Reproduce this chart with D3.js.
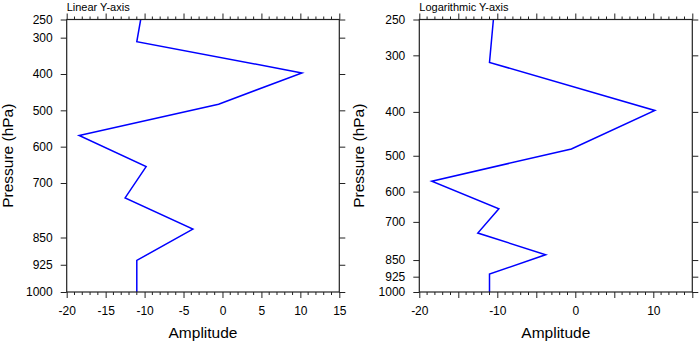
<!DOCTYPE html>
<html>
<head>
<meta charset="utf-8">
<script src="https://cdn.jsdelivr.net/npm/d3@7"></script>
<style>
  html, body { margin: 0; padding: 0; background: #fff; }
  svg { display: block; font-family: "Liberation Sans", Arial, Helvetica, sans-serif; }
</style>
</head>
<body>
<svg id="chart" width="700" height="342"></svg>
<script>
// ---- data ----
const pressure = [250, 311, 397, 483, 569, 655, 741, 827, 913, 1000];
const amplitude = [-10.5, -11.0, 10.2, -0.5, -18.4, -9.8, -12.5, -3.8, -11.0, -11.0];
const yTickValues = [250, 300, 400, 500, 600, 700, 850, 925, 1000];
const xDomain = [-20, 15];
const xMajorTicks = [-20, -15, -10, -5, 0, 5, 10, 15];
const xLabelsLinear = [-20, -15, -10, -5, 0, 5, 10, 15];
const xLabelsLog = [-20, -10, 0, 10];
const titles = ["Linear Y-axis", "Logarithmic Y-axis"];

(function () {
const svg = d3.select("#chart");
const plotTop = 19.5, plotBottom = 292;

const panels = [
  {left: 66.7, right: 339.3, log: false, title: titles[0], labels: xLabelsLinear, ylabX: 13},
  {left: 419.3, right: 692.3, log: true, title: titles[1], labels: xLabelsLog, ylabX: 364}
];

const minorTicks = d3.range(xDomain[0], xDomain[1] + 1, 1).filter(v => !xMajorTicks.includes(v));
const axisColor = "#222";

panels.forEach(p => {
  const g = svg.append("g");
  const x = d3.scaleLinear().domain(xDomain).range([p.left, p.right]);
  const y = (p.log ? d3.scaleLog() : d3.scaleLinear()).domain([250, 1000]).range([plotTop, plotBottom]);

  // data line
  const line = d3.line().x(d => x(d[0])).y(d => y(d[1]));
  g.append("path")
    .datum(amplitude.map((a, i) => [a, pressure[i]]))
    .attr("d", line)
    .attr("fill", "none")
    .attr("stroke", "#0000ff")
    .attr("stroke-width", 1.5);

  // bottom axis (labels)
  const bottomAxis = g.append("g").attr("transform", `translate(0,${plotBottom})`)
    .call(d3.axisBottom(x).tickValues(xMajorTicks).tickSize(6).tickPadding(8)
      .tickFormat(d => p.labels.includes(d) ? d : ""));
  bottomAxis.selectAll("text").attr("font-size", 12).attr("fill", "#000")
    .attr("font-family", "Liberation Sans, Arial, sans-serif");
  bottomAxis.selectAll("line.minor").data(minorTicks).enter()
    .append("line").attr("class", "minor")
    .attr("x1", d => x(d)).attr("x2", d => x(d)).attr("y1", 0).attr("y2", 3)
    .attr("stroke", axisColor);

  // top axis (ticks only)
  const topAxis = g.append("g").attr("transform", `translate(0,${plotTop})`)
    .call(d3.axisTop(x).tickValues(xMajorTicks).tickSize(6).tickFormat(""));
  topAxis.selectAll("line.minor").data(minorTicks).enter()
    .append("line").attr("class", "minor")
    .attr("x1", d => x(d)).attr("x2", d => x(d)).attr("y1", 0).attr("y2", -3)
    .attr("stroke", axisColor);

  // left axis
  const leftAxis = g.append("g").attr("transform", `translate(${p.left},0)`)
    .call(d3.axisLeft(y).tickValues(yTickValues).tickSize(6).tickPadding(8).tickFormat(d3.format("d")));
  leftAxis.selectAll("text").attr("font-size", 12).attr("fill", "#000")
    .attr("font-family", "Liberation Sans, Arial, sans-serif");

  // right axis
  g.append("g").attr("transform", `translate(${p.right},0)`)
    .call(d3.axisRight(y).tickValues(yTickValues).tickSize(6).tickFormat(""));

  g.selectAll(".tick line").attr("stroke", axisColor);
  g.selectAll(".domain").remove();
  g.append("rect").attr("x", p.left).attr("y", plotTop)
    .attr("width", p.right - p.left).attr("height", plotBottom - plotTop)
    .attr("fill", "none").attr("stroke", axisColor).attr("stroke-width", 1.2);

  // title
  g.append("text").attr("x", p.left).attr("y", 10.5)
    .attr("font-size", 11).attr("fill", "#000").text(p.title);

  // x label
  g.append("text").attr("x", (p.left + p.right) / 2).attr("y", 337.5)
    .attr("text-anchor", "middle").attr("font-size", 15.5).attr("fill", "#000").text("Amplitude");

  // y label
  g.append("text")
    .attr("transform", `translate(${p.ylabX},${(plotTop + plotBottom) / 2}) rotate(-90)`)
    .attr("text-anchor", "middle").attr("font-size", 15.5).attr("fill", "#000").text("Pressure (hPa)");
});
})();
</script>
</body>
</html>
